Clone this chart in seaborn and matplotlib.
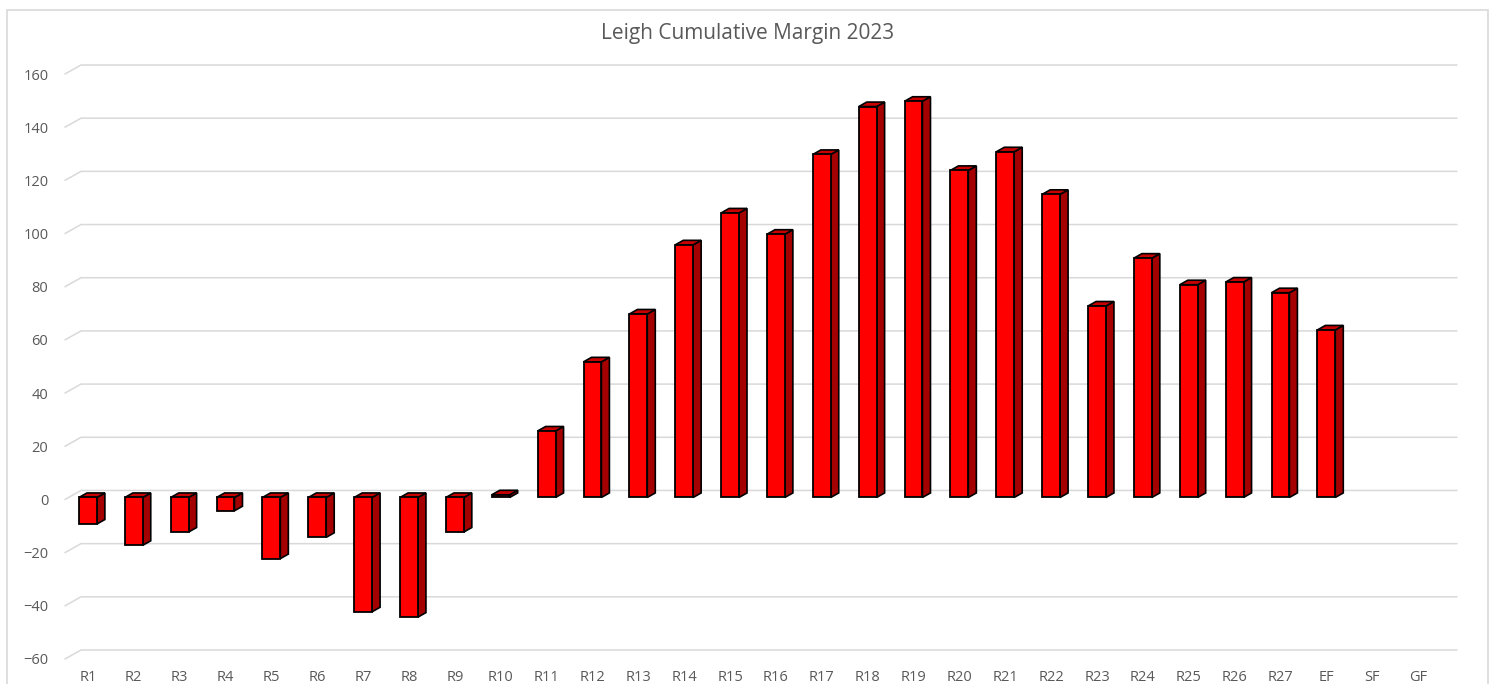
import matplotlib
matplotlib.use("Agg")
import matplotlib.pyplot as plt
import numpy as np
import pandas as pd
import seaborn as sns
from matplotlib.lines import Line2D
from matplotlib.patches import Polygon, Rectangle

rounds = ["R1", "R2", "R3", "R4", "R5", "R6", "R7", "R8", "R9", "R10",
          "R11", "R12", "R13", "R14", "R15", "R16", "R17", "R18", "R19", "R20",
          "R21", "R22", "R23", "R24", "R25", "R26", "R27", "EF", "SF", "GF"]
margin = [-10, -18, -13, -5, -23, -15, -43, -45, -13, 1,
          25, 51, 69, 95, 107, 99, 129, 147, 149, 123,
          130, 114, 72, 90, 80, 81, 77, 63, None, None]
y_ticks = [-60, -40, -20, 0, 20, 40, 60, 80, 100, 120, 140, 160]

df = pd.DataFrame({"round": rounds, "margin": margin}).dropna()

W, H = 1495, 684
sns.set_style("white")
plt.rcParams["font.family"] = ["Open Sans", "DejaVu Sans"]
fig = plt.figure(figsize=(W / 100, H / 100), dpi=100)
ax = fig.add_axes([65 / W, 1 - 659 / H, (1441 - 65) / W, (659 - 74) / H])

sns.barplot(data=df, x="round", y="margin", order=rounds, color="#ff0000",
            saturation=1, width=0.39, edgecolor="black", linewidth=1,
            ax=ax, zorder=3)

ax.set_ylim(-60, 160)
ax.set_xlim(-0.5, len(rounds) - 0.5)
ax.set_yticks(y_ticks)
ax.set_xlabel("")
ax.set_ylabel("")
ax.tick_params(length=0, labelsize=10.5, colors="#595959")
ax.tick_params(axis="y", pad=12)
ax.tick_params(axis="x", pad=8)
sns.despine(ax=ax, left=True, bottom=True, top=True, right=True)

fig.canvas.draw()
# back-wall gridlines with a short slanted floor segment
dx, dy = 16, 9
x0 = ax.transAxes.transform((0, 0))[0]
x1 = ax.transAxes.transform((1, 0))[0]
for v in y_ticks:
    yp = ax.transData.transform((0, v))[1]
    fig.add_artist(Line2D([x0, x0 + dx, x1 + dx], [yp, yp + dy, yp + dy],
                          transform=None, color="#d9d9d9", lw=1.1, zorder=1))

# fake 3D faces for each bar, front face on top
bx, by = 8, 4.5
lift = 2
for p in ax.patches:
    h = p.get_height()
    if np.isnan(h):
        continue
    (xa, ya), (xb, yb) = ax.transData.transform(
        [(p.get_x(), p.get_y()), (p.get_x() + p.get_width(), p.get_y() + h)])
    lo, hi = min(ya, yb) + lift, max(ya, yb) + lift
    side = Polygon([(xb, lo), (xb + bx, lo + by), (xb + bx, hi + by), (xb, hi)],
                   closed=True, transform=None, facecolor="#a50000",
                   edgecolor="black", lw=1.2, zorder=2)
    top = Polygon([(xa, hi), (xa + bx, hi + by), (xb + bx, hi + by), (xb, hi)],
                  closed=True, transform=None, facecolor="#c80000",
                  edgecolor="black", lw=1.2, zorder=2)
    front = Rectangle((xa, lo), xb - xa, hi - lo, transform=None,
                      facecolor="#ff0000", edgecolor="black", lw=1.3, zorder=5)
    fig.add_artist(side)
    fig.add_artist(top)
    fig.add_artist(front)
    p.set_visible(False)

fig.text(0.5, 1 - 33 / H, "Leigh Cumulative Margin 2023", ha="center",
         va="center", fontsize=15, color="#595959")
fig.add_artist(Rectangle((7 / W, -0.05), (1488 - 7) / W, 1.05 - 10 / H,
                         transform=fig.transFigure, fill=False,
                         edgecolor="#d9d9d9", lw=1.2))

fig.savefig("out.png", dpi=100)
